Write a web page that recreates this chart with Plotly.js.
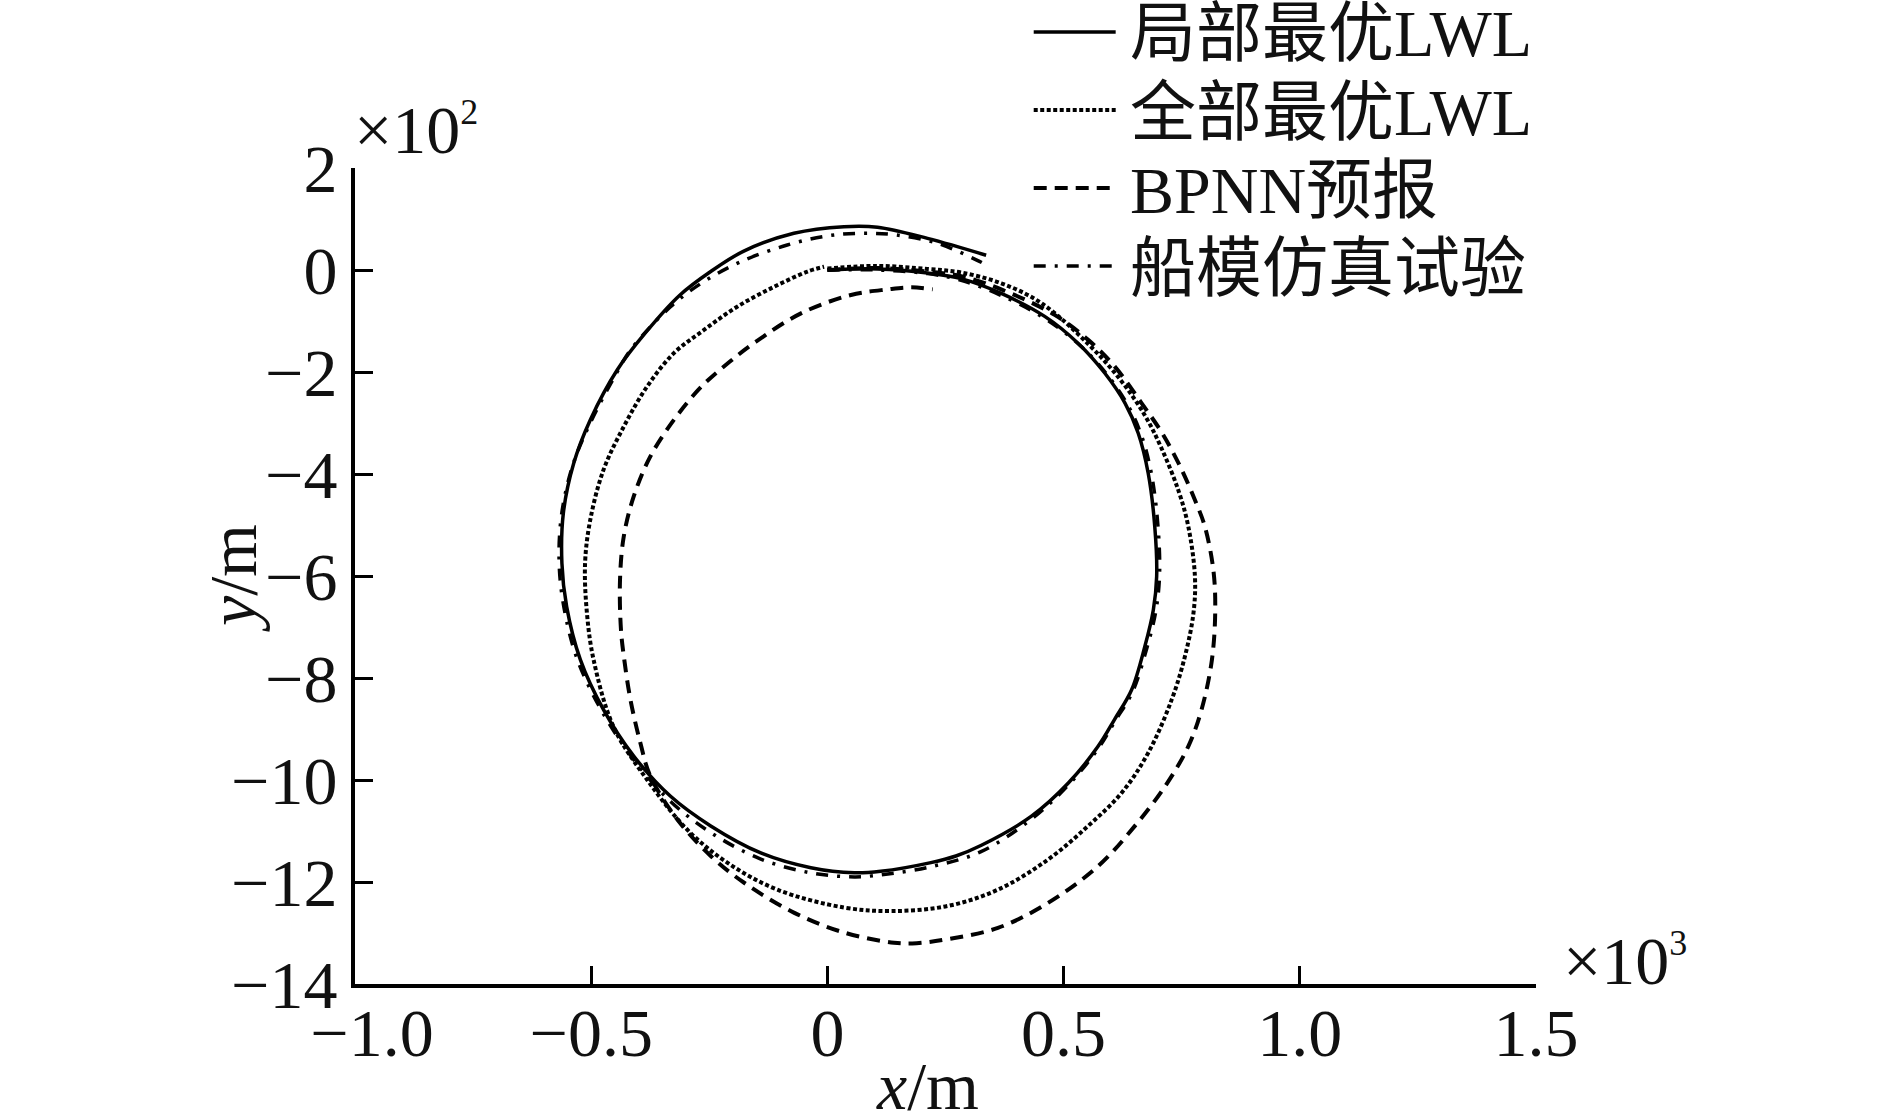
<!DOCTYPE html>
<html>
<head>
<meta charset="utf-8">
<script src="https://cdn.plot.ly/plotly-3.0.1.min.js"></script>
<style>
  html, body { margin: 0; padding: 0; background: #fff; }
  #chart { width: 1889px; height: 1114px; }
</style>
</head>
<body>
<div id="chart"></div>
<script>
// x in units of 10^3 m, y in units of 10^2 m (as on the axes)
const seriesNames = ['局部最优LWL', '全部最优LWL', 'BPNN预报', '船模仿真试验'];

const xLocal = [0, 0.106, 0.212, 0.283, 0.368, 0.460, 0.531, 0.587, 0.630, 0.658, 0.679, 0.693, 0.697, 0.690, 0.672, 0.644, 0.608, 0.573, 0.510, 0.432, 0.326, 0.272, 0.219, 0.113, 0.057, -0.035, -0.141, -0.247, -0.332, -0.410, -0.474, -0.523, -0.552, -0.562, -0.559, -0.537, -0.502, -0.445, -0.385, -0.312, -0.247, -0.177, -0.071, 0.035, 0.106, 0.212, 0.336];
const yLocal = [0, 0.02, -0.06, -0.17, -0.46, -0.91, -1.44, -2.02, -2.61, -3.20, -3.98, -5.03, -6.01, -6.66, -7.38, -8.23, -8.81, -9.34, -10.06, -10.71, -11.28, -11.49, -11.62, -11.79, -11.82, -11.72, -11.43, -10.90, -10.32, -9.53, -8.62, -7.64, -6.60, -5.75, -4.77, -3.79, -2.94, -1.96, -1.23, -0.49, -0.03, 0.37, 0.72, 0.85, 0.84, 0.62, 0.29];

const xGlobal = [0, 0.106, 0.212, 0.283, 0.368, 0.453, 0.552, 0.620, 0.672, 0.707, 0.744, 0.764, 0.778, 0.775, 0.757, 0.729, 0.679, 0.623, 0.552, 0.467, 0.361, 0.255, 0.138, 0.035, -0.106, -0.212, -0.297, -0.382, -0.453, -0.495, -0.509, -0.513, -0.502, -0.474, -0.431, -0.382, -0.325, -0.262, -0.191, -0.113, -0.042, -0.007];
const yGlobal = [0.03, 0.08, 0.02, -0.05, -0.26, -0.65, -1.45, -2.15, -2.85, -3.49, -4.35, -5.03, -6.01, -6.72, -7.57, -8.42, -9.47, -10.25, -10.90, -11.56, -12.15, -12.47, -12.57, -12.50, -12.15, -11.62, -10.97, -9.99, -8.95, -7.64, -6.73, -5.75, -4.90, -3.92, -3.07, -2.29, -1.63, -1.18, -0.72, -0.33, -0.03, 0.065];

const xBpnn = [0, 0.106, 0.212, 0.283, 0.368, 0.481, 0.552, 0.608, 0.665, 0.708, 0.746, 0.778, 0.799, 0.817, 0.821, 0.814, 0.792, 0.764, 0.715, 0.651, 0.573, 0.467, 0.361, 0.255, 0.189, 0.141, 0.035, -0.071, -0.177, -0.247, -0.318, -0.375, -0.396, -0.417, -0.430, -0.437, -0.439, -0.431, -0.410, -0.375, -0.325, -0.267, -0.207, -0.152, -0.056, 0.050, 0.128, 0.177, 0.223];
const yBpnn = [0, 0.04, -0.03, -0.12, -0.38, -0.88, -1.37, -1.89, -2.61, -3.19, -3.84, -4.51, -5.03, -5.88, -6.66, -7.64, -8.62, -9.34, -10.12, -10.90, -11.69, -12.41, -12.90, -13.12, -13.20, -13.19, -12.99, -12.60, -12.01, -11.49, -10.77, -9.92, -9.27, -8.42, -7.64, -7.05, -6.07, -5.22, -4.44, -3.66, -2.94, -2.29, -1.80, -1.41, -0.85, -0.49, -0.38, -0.34, -0.38];

const xModel = [0, 0.106, 0.212, 0.283, 0.368, 0.460, 0.535, 0.592, 0.636, 0.665, 0.686, 0.700, 0.703, 0.695, 0.676, 0.646, 0.608, 0.572, 0.508, 0.430, 0.324, 0.219, 0.113, 0.057, -0.035, -0.141, -0.247, -0.332, -0.410, -0.478, -0.530, -0.558, -0.568, -0.562, -0.538, -0.500, -0.445, -0.417, -0.332, -0.262, -0.184, -0.085, 0.000, 0.071, 0.142, 0.234, 0.315, 0.336];
const yModel = [0, 0.00, -0.07, -0.20, -0.50, -0.95, -1.48, -2.05, -2.65, -3.25, -4.00, -5.05, -6.00, -6.70, -7.42, -8.27, -8.86, -9.40, -10.12, -10.78, -11.41, -11.70, -11.86, -11.90, -11.82, -11.55, -11.03, -10.42, -9.60, -8.64, -7.62, -6.60, -5.70, -4.75, -3.80, -2.96, -2.00, -1.57, -0.72, -0.23, 0.16, 0.49, 0.67, 0.72, 0.69, 0.52, 0.20, 0.10];

const xTicks = [-1.0, -0.5, 0, 0.5, 1.0, 1.5];
const xTickText = ['\u2002\u22121.0', '\u22120.5', '0', '0.5', '1.0', '1.5'];
const yTicks = [-14, -12, -10, -8, -6, -4, -2, 0, 2];
const yTickText = ['\u221214', '\u221212', '\u221210', '\u22128', '\u22126', '\u22124', '\u22122', '0', '2'];

const serif = 'Liberation Serif, Times New Roman, Noto Sans CJK SC, serif';
const fontSize = 68;

// dash style per series, same order as seriesNames
const dashes = ['solid', '4px,2.5px', '13px,8px', '12px,9px,3px,9px'];
const widths = [3.5, 4, 4, 3.5];
const xs = [xLocal, xGlobal, xBpnn, xModel];
const ys = [yLocal, yGlobal, yBpnn, yModel];

const traces = seriesNames.map((name, i) => ({
  x: xs[i],
  y: ys[i],
  name: name,
  type: 'scatter',
  mode: 'lines',
  line: {color: '#000', width: widths[i], dash: dashes[i], shape: 'spline', smoothing: 1},
  hoverinfo: 'skip',
  showlegend: false
}));

// plot area in page pixels, used to place the hand-made legend and labels
const L = 355, R = 1536.5, T = 168, B = 984;
const px = v => (v - L) / (R - L);
const py = v => (B - v) / (B - T);

const legendRows = [32, 110, 188, 266];
const shapes = seriesNames.map((name, i) => ({
  type: 'line', xref: 'paper', yref: 'paper',
  x0: px(1034), x1: px(1116), y0: py(legendRows[i]), y1: py(legendRows[i]),
  line: {color: '#000', width: widths[i], dash: dashes[i]}
}));

const annotations = seriesNames.map((name, i) => ({
  text: name, xref: 'paper', yref: 'paper',
  x: px(1128), y: py(legendRows[i] + 2), xanchor: 'left', yanchor: 'middle',
  showarrow: false, font: {family: serif, size: 66, color: '#111'}
}));

annotations.push(
  {text: '\u00d710<sup><span style="font-size:36px">2</span></sup>', xref: 'paper', yref: 'paper', x: px(352), y: py(170),
   xanchor: 'left', yanchor: 'bottom', showarrow: false, font: {family: serif, size: fontSize, color: '#111'}},
  {text: '\u00d710<sup><span style="font-size:36px">3</span></sup>', xref: 'paper', yref: 'paper', x: px(1562), y: py(1001),
   xanchor: 'left', yanchor: 'bottom', showarrow: false, font: {family: serif, size: fontSize, color: '#111'}},
  {text: '<i>x</i>/m', xref: 'paper', yref: 'paper', x: px(928), y: py(1086),
   xanchor: 'center', yanchor: 'middle', showarrow: false, font: {family: serif, size: fontSize, color: '#111'}},
  {text: '<i>y</i>/m', xref: 'paper', yref: 'paper', x: px(233), y: py(578), textangle: -90,
   xanchor: 'center', yanchor: 'middle', showarrow: false, font: {family: serif, size: fontSize, color: '#111'}}
);

const axisCommon = {
  showgrid: false, zeroline: false, showline: true, linecolor: '#000', linewidth: 4,
  ticks: 'inside', ticklen: 18, tickwidth: 3, tickcolor: '#000',
  tickfont: {family: serif, size: fontSize, color: '#111'},
  fixedrange: true
};

const layout = {
  width: 1889, height: 1114,
  margin: {l: L, r: 1889 - R, t: T, b: 1114 - B, autoexpand: false},
  paper_bgcolor: '#fff', plot_bgcolor: '#fff',
  showlegend: false,
  xaxis: Object.assign({}, axisCommon, {range: [-1.0, 1.5], tickvals: xTicks, ticktext: xTickText, ticklabelstandoff: -14, automargin: false}),
  yaxis: Object.assign({}, axisCommon, {range: [-14, 2], tickvals: yTicks, ticktext: yTickText, automargin: false}),
  shapes: shapes,
  annotations: annotations
};

Plotly.newPlot('chart', traces, layout, {displayModeBar: false, staticPlot: true});
</script>
</body>
</html>
